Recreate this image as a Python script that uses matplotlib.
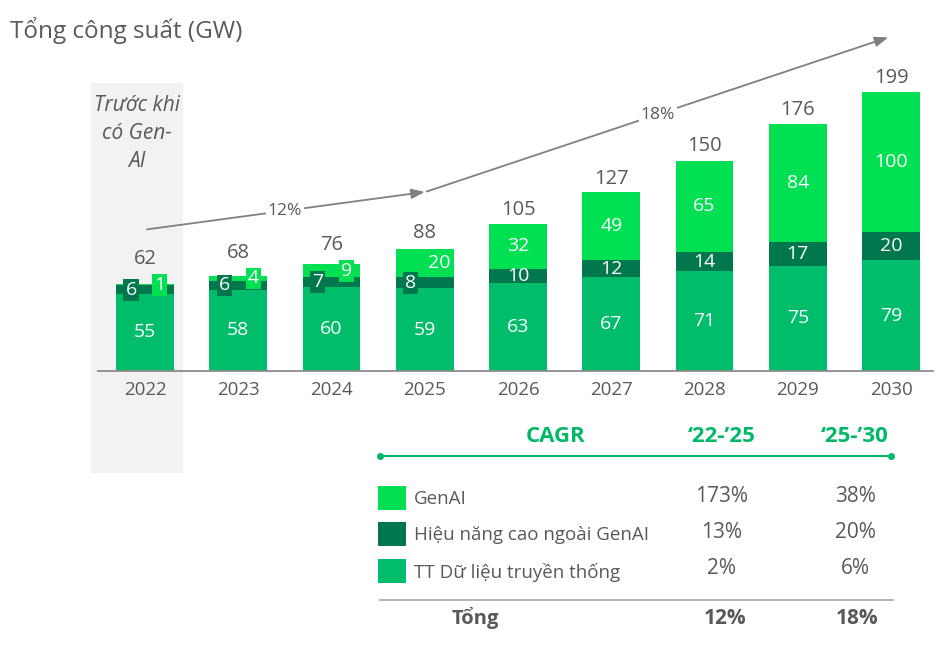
import matplotlib
matplotlib.use("Agg")
import matplotlib.pyplot as plt
from matplotlib.patches import Rectangle
from matplotlib.lines import Line2D

plt.rcParams['font.family'] = ['Open Sans', 'DejaVu Sans']

years = ['2022', '2023', '2024', '2025', '2026', '2027', '2028', '2029', '2030']
traditional = [55, 58, 60, 59, 63, 67, 71, 75, 79]
high_perf = [6, 6, 7, 8, 10, 12, 14, 17, 20]
genai = [1, 4, 9, 20, 32, 49, 65, 84, 100]
totals = [62, 68, 76, 88, 105, 127, 150, 176, 199]

cagr_periods = ['\u201822-\u201925', '\u201825-\u201930']
series_names = ['GenAI', 'Hiệu năng cao ngoài GenAI', 'TT Dữ liệu truyền thống']
cagr_22_25 = ['173%', '13%', '2%']
cagr_25_30 = ['38%', '20%', '6%']
cagr_total = ['12%', '18%']

C_TRAD = '#00BD6B'
C_HP = '#00774C'
C_GEN = '#00E052'
C_TEXT = '#595959'
C_HEAD = '#00B868'
C_ARROW = '#808080'

W, H = 936, 652
fig = plt.figure(figsize=(W / 100, H / 100), dpi=100)


def fx(x):
    return x / W


def fy(y):
    return 1 - y / H


# axes placed so that bar centers / baseline match the layout
scale = 1.402
ax = fig.add_axes([fx(98.4), fy(371), (933 - 98.4) / W, 250 * scale / H])
ax.set_xlim(-0.5, 8.45)
ax.set_ylim(0, 250)
for s in ['top', 'right', 'left']:
    ax.spines[s].set_visible(False)
ax.spines['bottom'].set_color('#8C8C8C')
ax.spines['bottom'].set_linewidth(1.3)
ax.set_yticks([])
x = list(range(len(years)))
ax.set_xticks(x)
ax.set_xticklabels(years, fontsize=13.5, color=C_TEXT)
ax.tick_params(axis='x', length=0, pad=7)

# grey "before GenAI" panel
ax.add_patch(Rectangle((-0.58, -72.8), 0.99, 278, facecolor='#F2F2F2',
                       edgecolor='none', clip_on=False, zorder=0))
ax.text(-0.09, 197, 'Trước khi\ncó Gen-\nAI', ha='center', va='top', fontsize=15,
        style='italic', color=C_TEXT, linespacing=1.45, zorder=1)

bw = 0.62
bottom2 = [t + h for t, h in zip(traditional, high_perf)]
ax.bar(x, traditional, bw, color=C_TRAD, zorder=2)
ax.bar(x, high_perf, bw, bottom=traditional, color=C_HP, zorder=2)
ax.bar(x, genai, bw, bottom=bottom2, color=C_GEN, zorder=2)

fs = 14
for i in x:
    ax.text(i, traditional[i] / 2, str(traditional[i]), ha='center', va='center',
            color='white', fontsize=fs, zorder=4)
    yh = traditional[i] + high_perf[i] / 2
    yg = bottom2[i] + genai[i] / 2
    if i < 4:
        ax.text(i - 0.15, yh, str(high_perf[i]), ha='center', va='center', color='white',
                fontsize=fs, zorder=4,
                bbox=dict(boxstyle='square,pad=0.1', fc=C_HP, ec='none'))
        ax.text(i + 0.16, yg, str(genai[i]), ha='center', va='center', color='white',
                fontsize=fs, zorder=4,
                bbox=dict(boxstyle='square,pad=0.1', fc=C_GEN, ec='none'))
        top = max(totals[i], yg + 8)
    else:
        ax.text(i, yh, str(high_perf[i]), ha='center', va='center', color='white',
                fontsize=fs, zorder=4)
        ax.text(i, yg, str(genai[i]), ha='center', va='center', color='white',
                fontsize=fs, zorder=4)
        top = totals[i]
    ax.text(i, top + 3, str(totals[i]), ha='center', va='bottom', color=C_TEXT,
            fontsize=14.5, zorder=4)

# CAGR arrows
arw = dict(arrowstyle='-|>,head_length=0.8,head_width=0.3', color=C_ARROW, lw=1.3,
           shrinkA=0, shrinkB=0)
ax.annotate('', xy=(3.0, 127.7), xytext=(0.02, 101), arrowprops=arw, zorder=3)
ax.annotate('', xy=(7.97, 238), xytext=(3.02, 128), arrowprops=arw,
            annotation_clip=False, zorder=3)
ax.text(1.5, 114.2, cagr_total[0], ha='center', va='center', fontsize=12.5, color=C_TEXT,
        bbox=dict(boxstyle='square,pad=0.1', fc='white', ec='none'), zorder=3)
ax.text(5.5, 182.6, cagr_total[1], ha='center', va='center', fontsize=12.5, color=C_TEXT,
        bbox=dict(boxstyle='square,pad=0.1', fc='white', ec='none'), zorder=3)

# title
fig.text(fx(10), fy(30), 'Tổng công suất (GW)', fontsize=17.5, color=C_TEXT,
         ha='left', va='center')

# CAGR table
col1, col2 = 722, 855
fig.text(fx(556), fy(437), 'CAGR', fontsize=16, fontweight='bold', color=C_HEAD,
         ha='center', va='center')
fig.text(fx(col1), fy(437), cagr_periods[0], fontsize=16, fontweight='bold', color=C_HEAD,
         ha='center', va='center')
fig.text(fx(col2), fy(437), cagr_periods[1], fontsize=16, fontweight='bold', color=C_HEAD,
         ha='center', va='center')
fig.add_artist(Line2D([fx(380), fx(891)], [fy(456), fy(456)], color=C_HEAD, lw=1.5,
                      marker='o', markersize=4, markevery=[0, 1]))

colors = [C_GEN, C_HP, C_TRAD]
rows_y = [498, 534, 571]
for name, c, ry, v1, v2 in zip(series_names, colors, rows_y, cagr_22_25, cagr_25_30):
    fig.add_artist(Rectangle((fx(378), fy(ry + 12)), 28 / W, 24 / H, facecolor=c,
                             edgecolor='none'))
    fig.text(fx(414), fy(ry + 1), name, fontsize=13.5, color=C_TEXT, ha='left', va='center')
    fig.text(fx(col1), fy(ry - 2), v1, fontsize=15, color=C_TEXT, ha='center', va='center')
    fig.text(fx(col2), fy(ry - 2), v2, fontsize=15, color=C_TEXT, ha='center', va='center')

fig.add_artist(Line2D([fx(380), fx(893)], [fy(600), fy(600)], color='#A6A6A6', lw=1.2))
fig.text(fx(475), fy(618), 'Tổng', fontsize=14.5, fontweight='bold', color=C_TEXT,
         ha='center', va='center')
fig.text(fx(col1 + 3), fy(618), cagr_total[0], fontsize=15, fontweight='bold', color=C_TEXT,
         ha='center', va='center')
fig.text(fx(col2 + 2), fy(618), cagr_total[1], fontsize=15, fontweight='bold', color=C_TEXT,
         ha='center', va='center')

fig.savefig('out.png', dpi=100)
